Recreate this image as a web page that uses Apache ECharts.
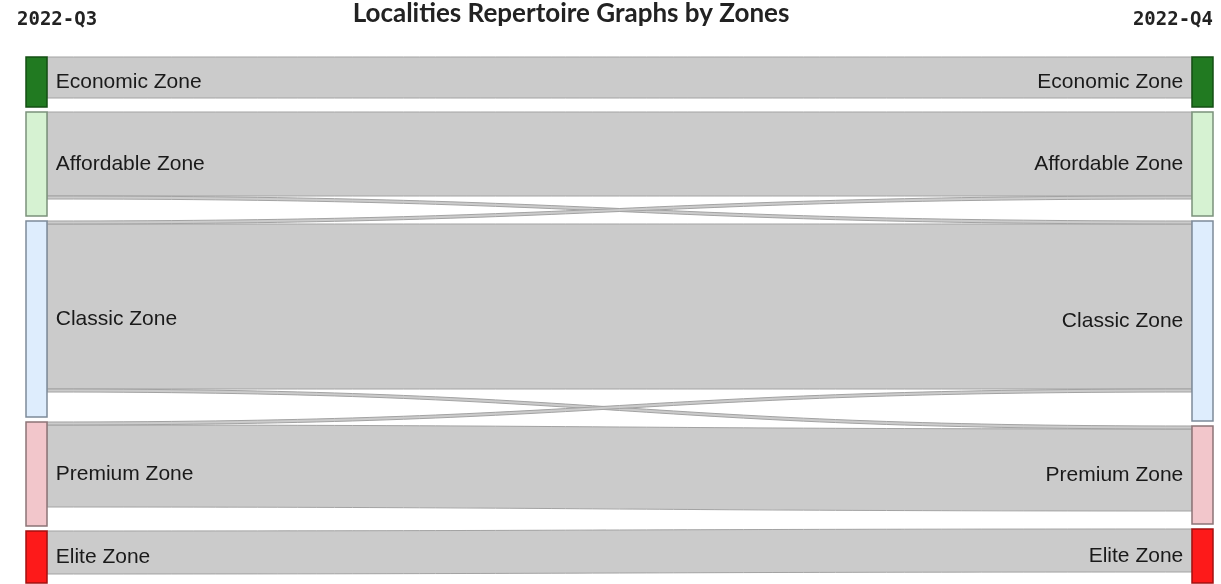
<!DOCTYPE html>
<html>
<head>
<meta charset="utf-8">
<title>Localities Repertoire Graphs by Zones</title>
<script src="https://cdn.jsdelivr.net/npm/echarts@6/dist/echarts.min.js"></script>
<style>
  html, body { margin: 0; padding: 0; background: #ffffff; }
  #chart { width: 1221px; height: 584px; }
</style>
</head>
<body>
<div id="chart"></div>
<script>
// Quarters shown as the two columns
const quarters = ['2022-Q3', '2022-Q4'];

// Zones, top to bottom
const zones = ['Economic Zone', 'Affordable Zone', 'Classic Zone', 'Premium Zone', 'Elite Zone'];

// Zone totals per quarter
const q3Totals = [25, 52, 98, 52, 26];
const q4Totals = [25, 52, 100, 49, 27];

// Flows between quarters (source zone in Q3 -> target zone in Q4)
const flowSources = ['Economic Zone', 'Affordable Zone', 'Classic Zone', 'Premium Zone', 'Elite Zone',
                     'Affordable Zone', 'Classic Zone', 'Classic Zone', 'Premium Zone'];
const flowTargets = ['Economic Zone', 'Affordable Zone', 'Classic Zone', 'Premium Zone', 'Elite Zone',
                     'Classic Zone', 'Affordable Zone', 'Premium Zone', 'Classic Zone'];
const flowValues  = [20.5, 42, 82.5, 41, 21.5,
                     1.5, 1.5, 1.5, 1.5];

// Zone colours (fill, border)
const zoneFill   = ['#217a21', '#d6f2d2', '#deedfd', '#f2c6cb', '#fd1a1a'];
const zoneBorder = ['#134f13', '#7b917b', '#7d8b99', '#8c7477', '#a31111'];

const nodeId = (quarter, zone) => quarter + ' · ' + zone;

const nodes = [];
[q3Totals, q4Totals].forEach(function (totals, col) {
  zones.forEach(function (zone, i) {
    nodes.push({
      name: nodeId(quarters[col], zone),
      zone: zone,
      value: totals[i],
      depth: col,
      itemStyle: { color: zoneFill[i], borderColor: zoneBorder[i], borderWidth: 1.5 },
      label: { position: col === 0 ? 'right' : 'left' }
    });
  });
});

const links = flowSources.map(function (src, i) {
  return {
    source: nodeId(quarters[0], src),
    target: nodeId(quarters[1], flowTargets[i]),
    value: flowValues[i]
  };
});

const chart = echarts.init(document.getElementById('chart'), null, { renderer: 'canvas' });

const headFont = 'Lato, Roboto, sans-serif';

chart.setOption({
  backgroundColor: '#ffffff',
  animation: false,
  graphic: [
    {
      type: 'text', x: 571, y: 13.5,
      style: {
        text: 'Localities Repertoire Graphs by Zones',
        fontFamily: headFont,
        fontWeight: 'bold', fontSize: 26, fill: '#222222',
        textAlign: 'center', textVerticalAlign: 'middle'
      }
    },
    {
      type: 'text', x: 17, y: 20,
      style: {
        text: quarters[0],
        fontFamily: '"DejaVu Sans Mono", monospace',
        fontWeight: 'bold', fontSize: 19, fill: '#222222',
        textAlign: 'left', textVerticalAlign: 'middle'
      }
    },
    {
      type: 'text', x: 1213, y: 20,
      style: {
        text: quarters[1],
        fontFamily: '"DejaVu Sans Mono", monospace',
        fontWeight: 'bold', fontSize: 19, fill: '#222222',
        textAlign: 'right', textVerticalAlign: 'middle'
      }
    }
  ],
  series: [{
    type: 'sankey',
    left: 26,
    right: 8,
    top: 57,
    bottom: 1,
    nodeWidth: 21,
    nodeGap: 5,
    layoutIterations: 0,
    draggable: false,
    emphasis: { disabled: true },
    data: nodes,
    links: links,
    label: {
      show: true,
      distance: 8,
      fontFamily: '"Liberation Sans", Arial, sans-serif',
      fontSize: 21,
      color: '#1a1a1a',
      formatter: function (p) { return p.data.zone; }
    },
    lineStyle: {
      color: '#cbcbcb',
      opacity: 1,
      curveness: 0.5,
      borderColor: '#a3a3a3',
      borderWidth: 1
    }
  }]
});
</script>
</body>
</html>
